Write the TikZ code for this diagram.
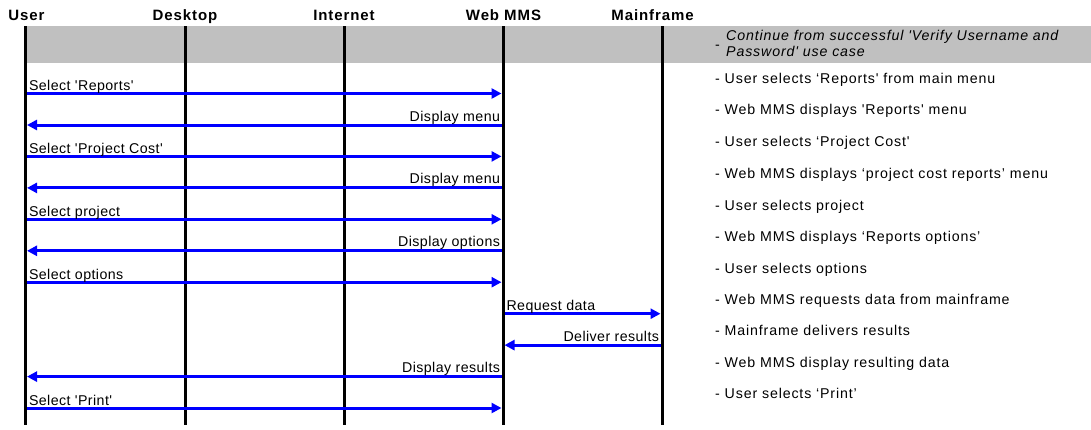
\documentclass[tikz,border=0pt]{standalone}
\usepackage{fontspec}
\setmainfont{Liberation Sans}
\newfontfamily\diagfont[LetterSpace=6]{Liberation Sans}
\newfontfamily\msgfont[LetterSpace=3]{Liberation Sans}
\usetikzlibrary{arrows.meta}
\definecolor{bandgray}{RGB}{192,192,192}
\definecolor{msgblue}{RGB}{0,0,255}

\tikzset{
  life/.style={line width=3pt, black},
  msg/.style={line width=3pt, msgblue, -{Triangle[length=10pt,width=10pt]},
              shorten <=1.5pt, shorten >=1.5pt},
  head/.style={font=\diagfont\fontsize{15}{17}\selectfont\bfseries, anchor=base, inner sep=0pt},
  lblR/.style={font=\msgfont\fontsize{14.2}{16}\selectfont, text=black, anchor=base west,
               inner sep=0pt, pos=0, xshift=2pt, yshift=3pt},
  lblL/.style={font=\msgfont\fontsize{14.2}{16}\selectfont, text=black, anchor=base east,
               inner sep=0pt, pos=0, xshift=-1.5pt, yshift=4pt},
  note/.style={font=\diagfont\fontsize{14.2}{16}\selectfont, anchor=base west, inner sep=0pt},
}

\begin{document}
\begin{tikzpicture}[x=1pt, y=-1pt]
\useasboundingbox (0,0) rectangle (1091,429);
\fill[white] (0,0) rectangle (1091,429);

% grey precondition band
\fill[bandgray] (25.5,26) rectangle (1091,63);

% participants
\node[head] (hU) at (26.5,20.7) {User};
\node[head] (hD) at (185,20.7) {Desktop};
\node[head] (hI) at (344,20.7) {Internet};
\node[head] (hW) at (503.5,20.7) {Web MMS};
\node[head] (hM) at (652.5,20.7) {Mainframe};

% lifelines
\foreach \n/\x in {U/25.5, D/185, I/344, W/503, M/662} {
  \coordinate (\n top) at (\x,26);
  \coordinate (\n bot) at (\x,425);
  \draw[life] (\n top) -- (\n bot);
}

% message rows on the lifelines
\foreach \i/\y in {1/93.5, 2/125, 3/156.4, 4/187.9, 5/219.3, 6/250.8,
                   7/282.2, 8/313.7, 9/345.1, 10/376.6, 11/408} {
  \coordinate (U\i) at (25.5,\y);
  \coordinate (W\i) at (503,\y);
  \coordinate (M\i) at (662,\y);
}

% messages
\draw[msg] (U1) -- (W1) node[lblR] {Select 'Reports'};
\draw[msg] (W2) -- (U2) node[lblL] {Display menu};
\draw[msg] (U3) -- (W3) node[lblR] {Select 'Project Cost'};
\draw[msg] (W4) -- (U4) node[lblL] {Display menu};
\draw[msg] (U5) -- (W5) node[lblR] {Select project};
\draw[msg] (W6) -- (U6) node[lblL] {Display options};
\draw[msg] (U7) -- (W7) node[lblR] {Select options};
\draw[msg] (W8) -- (M8) node[lblR] {Request data};
\draw[msg] (M9) -- (W9) node[lblL] {Deliver results};
\draw[msg] (W10) -- (U10) node[lblL] {Display results};
\draw[msg] (U11) -- (W11) node[lblR] {Select 'Print'};

% step descriptions
\node[note] (d0) at (715,49) {-};
\node[note, font=\diagfont\fontsize{14.2}{16}\selectfont\itshape] (n0a) at (726,40)
  {Continue from successful 'Verify Username and};
\node[note, font=\diagfont\fontsize{14.2}{16}\selectfont\itshape] (n0b) at (726,56)
  {Password' use case};
\node[note] (n1)  at (715,83)  {- User selects ‘Reports' from main menu};
\node[note] (n2)  at (715,114) {- Web MMS displays 'Reports' menu};
\node[note] (n3)  at (715,146) {- User selects ‘Project Cost'};
\node[note] (n4)  at (715,178) {- Web MMS displays ‘project cost reports’ menu};
\node[note] (n5)  at (715,210) {- User selects project};
\node[note] (n6)  at (715,241) {- Web MMS displays ‘Reports options’};
\node[note] (n7)  at (715,273) {- User selects options};
\node[note] (n8)  at (715,304) {- Web MMS requests data from mainframe};
\node[note] (n9)  at (715,335) {- Mainframe delivers results};
\node[note] (n10) at (715,367) {- Web MMS display resulting data};
\node[note] (n11) at (715,398) {- User selects ‘Print’};
\end{tikzpicture}
\end{document}
